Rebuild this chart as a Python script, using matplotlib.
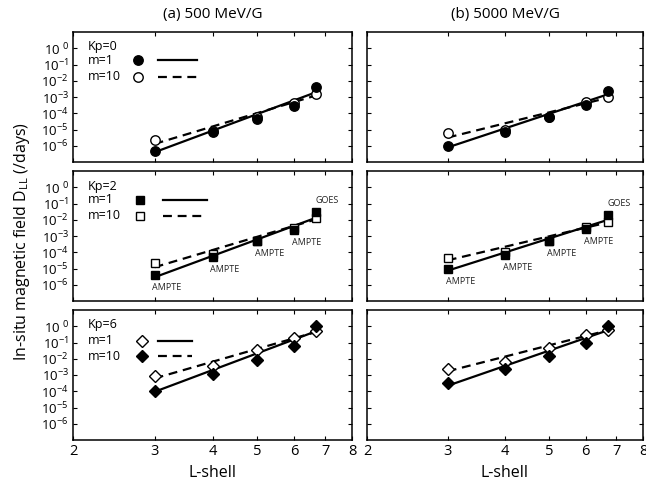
import numpy as np
import matplotlib
matplotlib.use("Agg")
import matplotlib.pyplot as plt

plt.rcParams['font.family'] = ['Open Sans', 'DejaVu Sans']
plt.rcParams['mathtext.default'] = 'regular'

# ---------------- data ----------------
L = [3, 4, 5, 6, 6.7]
L_fit = [3, 6.7]
x_ticks = [2, 3, 4, 5, 6, 7, 8]
y_ticks = [1e-6, 1e-5, 1e-4, 1e-3, 1e-2, 1e-1, 1e0]
y_ticklabels = ['10$^{-6}$', '10$^{-5}$', '10$^{-4}$', '10$^{-3}$', '10$^{-2}$', '10$^{-1}$', '10$^{\\ 0}$']
col_titles = ['(a) 500 MeV/G', '(b) 5000 MeV/G']
kp_labels = ['Kp=0', 'Kp=2', 'Kp=6']
m_labels = ['m=1', 'm=10']
station_labels = ['AMPTE', 'AMPTE', 'AMPTE', 'AMPTE', 'GOES']

# Kp=0
a0_m1 = [4.6e-7, 6.6e-6, 4.3e-5, 2.8e-4, 4.0e-3]
a0_m10 = [2.3e-6, 8.0e-6, 6.0e-5, 4.5e-4, 1.6e-3]
a0_fit_m1 = [4.0e-7, 2.0e-3]
a0_fit_m10 = [1.3e-6, 1.26e-3]
b0_m1 = [1.0e-6, 7.2e-6, 5.5e-5, 3.2e-4, 2.5e-3]
b0_m10 = [5.8e-6, 1.0e-5, 6.3e-5, 4.9e-4, 1.0e-3]
b0_fit_m1 = [7.9e-7, 1.45e-3]
b0_fit_m10 = [3.2e-6, 8.9e-4]
# Kp=2
a2_m1 = [4.0e-6, 5.4e-5, 4.8e-4, 2.4e-3, 3.1e-2]
a2_m10 = [2.1e-5, 7.9e-5, 5.0e-4, 3.2e-3, 1.35e-2]
a2_fit_m1 = [2.9e-6, 1.35e-2]
a2_fit_m10 = [1.2e-5, 1.07e-2]
b2_m1 = [1.0e-5, 6.5e-5, 4.8e-4, 2.75e-3, 1.95e-2]
b2_m10 = [4.7e-5, 1.0e-4, 5.0e-4, 3.8e-3, 7.1e-3]
b2_fit_m1 = [7.4e-6, 9.8e-3]
b2_fit_m10 = [3.2e-5, 6.8e-3]
# Kp=6 (open = upper/dashed, filled = lower/solid)
a6_open = [8.5e-4, 3.6e-3, 3.3e-2, 0.19, 0.5]
a6_filled = [1.0e-4, 1.2e-3, 8.9e-3, 6.2e-2, 1.0]
a6_fit_solid = [9.3e-5, 0.5]
a6_fit_dashed = [6.2e-4, 0.45]
b6_open = [2.5e-3, 6.5e-3, 4.3e-2, 0.28, 0.63]
b6_filled = [3.3e-4, 2.3e-3, 1.5e-2, 0.1, 1.0]
b6_fit_solid = [2.2e-4, 0.56]
b6_fit_dashed = [1.7e-3, 0.56]

# ---------------- figure ----------------
fig = plt.figure(figsize=(6.46, 4.83), dpi=100)
W, H = 646, 483
cols = [(73, 279), (367, 276)]
rows = [(32, 162), (171, 301), (310, 440)]
axes = [[None, None] for _ in range(3)]
for r, (top, bot) in enumerate(rows):
    for c, (left, w) in enumerate(cols):
        ax = fig.add_axes([left / W, 1 - bot / H, w / W, (bot - top) / H])
        axes[r][c] = ax
        ax.set_xscale('log')
        ax.set_yscale('log')
        ax.set_xlim(2, 8)
        ax.set_ylim(1e-7, 1e1)
        ax.set_xticks(x_ticks)
        ax.xaxis.set_minor_locator(matplotlib.ticker.NullLocator())
        ax.yaxis.set_minor_locator(matplotlib.ticker.NullLocator())
        ax.set_yticks(y_ticks)
        ax.tick_params(direction='in', top=True, right=True, length=3, width=0.8,
                       labelsize=9.5, pad=3)
        if c == 0:
            ax.set_yticklabels(y_ticklabels)
        else:
            ax.set_yticklabels([])
        if r == 2:
            ax.set_xticklabels([str(t) for t in x_ticks])
            ax.tick_params(axis='x', labelsize=10.5)
            ax.set_xlabel('L-shell', fontsize=11.5, labelpad=4)
        else:
            ax.set_xticklabels([])
        for s in ax.spines.values():
            s.set_linewidth(1.1)
        if r == 0:
            ax.set_title(col_titles[c], fontsize=11, pad=10)

lw = 1.6
dash = (0, (4, 2.6))
ms_c = 6.8
ms_s = 5.6
ms_d = 6.2

def draw_pair(ax, fit_solid, fit_dashed, filled, opened, marker, ms):
    ax.plot(L_fit, fit_solid, color='black', lw=lw, zorder=2)
    ax.plot(L_fit, fit_dashed, color='black', lw=lw, linestyle=dash, zorder=2)
    ax.plot(L, opened, linestyle='none', marker=marker, ms=ms, mfc='white',
            mec='black', mew=1.0, zorder=3)
    ax.plot(L, filled, linestyle='none', marker=marker, ms=ms, mfc='black',
            mec='black', zorder=4)

draw_pair(axes[0][0], a0_fit_m1, a0_fit_m10, a0_m1, a0_m10, 'o', ms_c)
draw_pair(axes[0][1], b0_fit_m1, b0_fit_m10, b0_m1, b0_m10, 'o', ms_c)
draw_pair(axes[1][0], a2_fit_m1, a2_fit_m10, a2_m1, a2_m10, 's', ms_s)
draw_pair(axes[1][1], b2_fit_m1, b2_fit_m10, b2_m1, b2_m10, 's', ms_s)
draw_pair(axes[2][0], a6_fit_solid, a6_fit_dashed, a6_filled, a6_open, 'D', ms_d)
draw_pair(axes[2][1], b6_fit_solid, b6_fit_dashed, b6_filled, b6_open, 'D', ms_d)

# station labels
for ax, vals in [(axes[1][0], a2_m1), (axes[1][1], b2_m1)]:
    for lv, v, name in zip(L, vals, station_labels):
        off = (8, 8) if name == 'GOES' else (9, -9)
        ax.annotate(name, (lv, v), xytext=off, textcoords='offset points',
                    ha='center', va='center', fontsize=6.5, color='#222222')

# legends (drawn in axes-fraction coordinates)
legend_specs = [
    # title_y, row ys, marker x, line x0, x1, marker, ms, first filled
    (0.885, (0.782, 0.656), 0.233, 0.303, 0.445, 'o', ms_c, True),
    (0.879, (0.779, 0.656), 0.240, 0.323, 0.480, 's', ms_s, True),
    (0.885, (0.762, 0.646), 0.247, 0.305, 0.427, 'D', ms_d, False),
]
for r, (ty, (y1, y2), mx, lx0, lx1, mk, ms, ff) in enumerate(legend_specs):
    ax = axes[r][0]
    tr = ax.transAxes
    ax.text(0.054, ty, kp_labels[r], transform=tr, ha='left', va='center', fontsize=9)
    for yy, lab, filled, ls in [(y1, m_labels[0], ff, '-'), (y2, m_labels[1], not ff, dash)]:
        ax.text(0.054, yy, lab, transform=tr, ha='left', va='center', fontsize=9)
        ax.plot([mx], [yy], transform=tr, linestyle='none', marker=mk, ms=ms,
                mfc='black' if filled else 'white', mec='black', mew=1.0, clip_on=False)
        ax.plot([lx0, lx1], [yy, yy], transform=tr, color='black', lw=lw,
                linestyle=ls, clip_on=False)

fig.text(22 / W, 0.5, 'In-situ magnetic field D$_{LL}$ (/days)', rotation=90,
         ha='center', va='center', fontsize=11.5)

fig.savefig('out.png', dpi=100)
